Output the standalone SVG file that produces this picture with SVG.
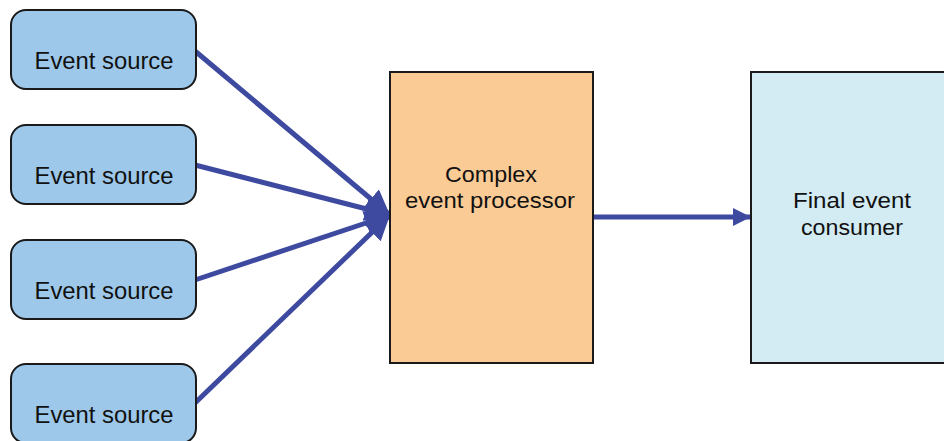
<svg xmlns="http://www.w3.org/2000/svg" width="944" height="441" viewBox="0 0 944 441">
<defs>
<style>
.src{fill:#9DC8EA;stroke:#1a1a1a;stroke-width:2}
.t{font-family:"Liberation Sans",Arial,sans-serif;fill:#111;text-anchor:middle}
.c{stroke:#3E4AA0;stroke-width:5;fill:none}
</style>
<marker id="ah" viewBox="0 0 10 10" refX="10" refY="5" markerWidth="5" markerHeight="5" markerUnits="strokeWidth" orient="auto">
<path d="M0,0 L10,5 L0,10 z" fill="#3E4AA0"/>
</marker>
<marker id="ah2" viewBox="0 0 10 10" refX="10" refY="5" markerWidth="3.6" markerHeight="3.6" markerUnits="strokeWidth" orient="auto">
<path d="M0,0 L10,5 L0,10 z" fill="#3E4AA0"/>
</marker>
</defs>
<rect width="944" height="441" fill="#fff"/>
<g id="connectors">
<line class="c" x1="195" y1="51" x2="390" y2="215" marker-end="url(#ah)"/>
<line class="c" x1="195" y1="165" x2="390" y2="215" marker-end="url(#ah)"/>
<line class="c" x1="195" y1="280" x2="390" y2="215" marker-end="url(#ah)"/>
<line class="c" x1="195" y1="403" x2="390" y2="215" marker-end="url(#ah)"/>
<line class="c" x1="593" y1="217" x2="751" y2="217" marker-end="url(#ah2)"/>
</g>
<g id="src1"><rect class="src" x="11" y="10" width="185" height="79" rx="15"/><text class="t" x="104" y="69" font-size="24" textLength="139" lengthAdjust="spacingAndGlyphs">Event source</text></g>
<g id="src2"><rect class="src" x="11" y="125" width="185" height="79" rx="15"/><text class="t" x="104" y="184" font-size="24" textLength="139" lengthAdjust="spacingAndGlyphs">Event source</text></g>
<g id="src3"><rect class="src" x="11" y="240" width="185" height="79" rx="15"/><text class="t" x="104" y="299" font-size="24" textLength="139" lengthAdjust="spacingAndGlyphs">Event source</text></g>
<g id="src4"><rect class="src" x="11" y="364" width="185" height="79" rx="15"/><text class="t" x="104" y="423" font-size="24" textLength="139" lengthAdjust="spacingAndGlyphs">Event source</text></g>
<g id="processor"><rect x="390" y="72" width="203" height="291" fill="#FBCB96" stroke="#1a1a1a" stroke-width="2"/><text class="t" x="491" y="182" font-size="22.5" textLength="92" lengthAdjust="spacingAndGlyphs">Complex</text><text class="t" x="490" y="208" font-size="22.5" textLength="170" lengthAdjust="spacingAndGlyphs">event processor</text></g>
<g id="consumer"><rect x="751" y="72" width="200" height="291" fill="#D3EBF3" stroke="#1a1a1a" stroke-width="2"/><text class="t" x="852" y="208" font-size="22.5" textLength="118" lengthAdjust="spacingAndGlyphs">Final event</text><text class="t" x="852" y="235" font-size="22.5" textLength="102" lengthAdjust="spacingAndGlyphs">consumer</text></g>
</svg>
